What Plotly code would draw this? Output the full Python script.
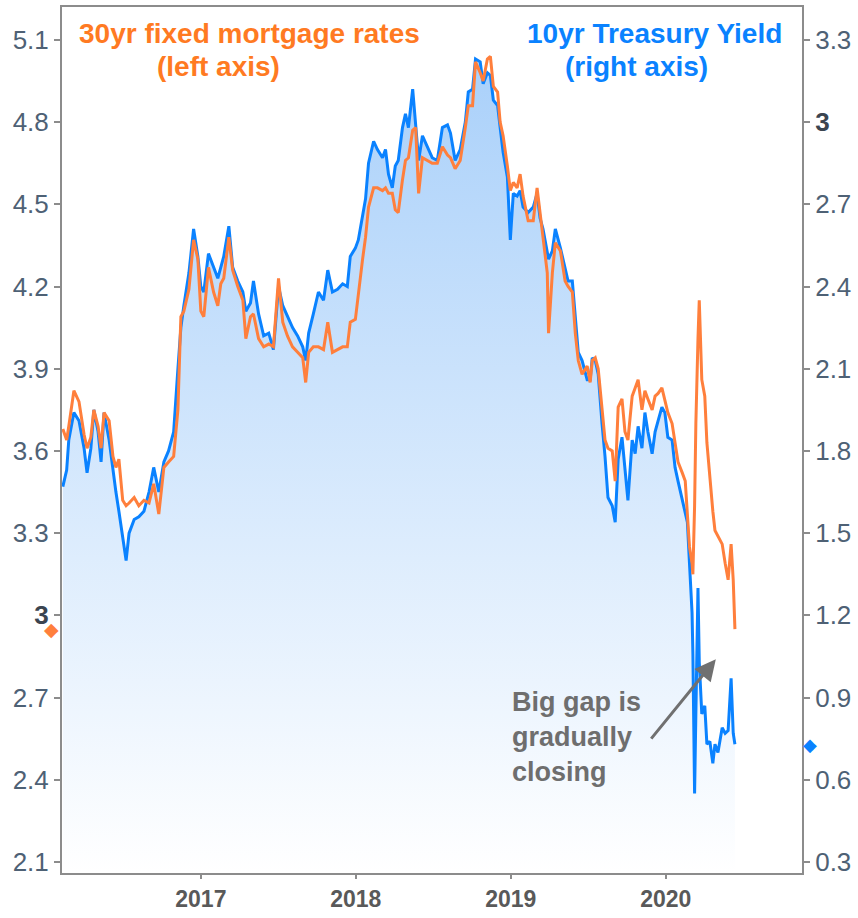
import plotly.graph_objects as go
import pandas as pd

# ---------------- data ----------------
dates = [
    "2016-02-11","2016-02-20","2016-02-25","2016-03-08","2016-03-20","2016-04-01","2016-04-08","2016-04-17",
    "2016-04-24","2016-05-04","2016-05-11","2016-05-18","2016-05-30","2016-06-08","2016-06-15","2016-06-22",
    "2016-07-01","2016-07-09","2016-07-16","2016-07-28","2016-08-08","2016-08-20","2016-09-01","2016-09-12",
    "2016-09-24","2016-10-06","2016-10-17","2016-10-29","2016-11-08","2016-11-15","2016-11-22","2016-12-04",
    "2016-12-15","2016-12-25",
    "2017-01-01","2017-01-08","2017-01-19","2017-01-31","2017-02-10","2017-02-17","2017-02-24","2017-03-08",
    "2017-03-17","2017-03-29","2017-04-10","2017-04-17","2017-04-28","2017-05-05","2017-05-17","2017-05-29",
    "2017-06-10","2017-06-21","2017-07-03","2017-07-13","2017-07-24","2017-08-05","2017-08-17","2017-08-29",
    "2017-09-05","2017-09-12","2017-09-23","2017-10-05","2017-10-17","2017-10-27","2017-11-07","2017-11-19",
    "2017-12-01","2017-12-12","2017-12-19","2017-12-31",
    "2018-01-07","2018-01-17","2018-01-24","2018-01-31","2018-02-12","2018-02-21","2018-03-05","2018-03-12",
    "2018-03-19","2018-03-28","2018-04-04","2018-04-11","2018-04-21","2018-04-28","2018-05-05","2018-05-15",
    "2018-05-22","2018-05-29","2018-06-07","2018-06-19","2018-06-30","2018-07-12","2018-07-24","2018-08-05",
    "2018-08-12","2018-08-23","2018-09-04","2018-09-16","2018-09-23","2018-10-03","2018-10-10","2018-10-21",
    "2018-10-28","2018-11-07","2018-11-14","2018-11-21","2018-12-01","2018-12-07","2018-12-14","2018-12-24",
    "2018-12-31",
    "2019-01-07","2019-01-16","2019-01-23","2019-01-30","2019-02-11","2019-02-23","2019-03-04","2019-03-11",
    "2019-03-18","2019-03-28","2019-03-31","2019-04-09","2019-04-16","2019-04-28","2019-05-09","2019-05-16",
    "2019-05-26","2019-06-02","2019-06-09","2019-06-18","2019-06-30","2019-07-07","2019-07-12","2019-07-19",
    "2019-07-26","2019-08-04","2019-08-11","2019-08-18","2019-08-28","2019-09-04","2019-09-11","2019-09-20",
    "2019-09-27","2019-10-04","2019-10-14","2019-10-21","2019-10-28","2019-11-06","2019-11-13","2019-11-20",
    "2019-11-30","2019-12-07","2019-12-14","2019-12-23","2019-12-30",
    "2020-01-06","2020-01-16","2020-01-23","2020-01-30","2020-02-09","2020-02-16","2020-02-21","2020-02-26",
    "2020-03-03","2020-03-05","2020-03-09","2020-03-12","2020-03-17","2020-03-20","2020-03-26","2020-04-02",
    "2020-04-07","2020-04-14","2020-04-21","2020-04-26","2020-05-03","2020-05-13","2020-05-20","2020-05-27",
    "2020-06-03","2020-06-08","2020-06-12",
]

mortgage_30yr = [
    3.68,3.64,3.69,3.82,3.78,3.66,3.61,3.65,3.75,3.69,3.61,3.74,3.71,3.58,3.54,3.57,
    3.42,3.40,3.41,3.43,3.40,3.42,3.41,3.48,3.37,3.54,3.56,3.58,3.75,4.09,4.11,4.19,
    4.37,4.30,
    4.11,4.09,4.27,4.18,4.13,4.21,4.23,4.38,4.26,4.20,4.15,4.01,4.09,4.10,4.01,3.98,
    3.99,3.98,4.23,4.07,4.02,3.98,3.96,3.94,3.85,3.96,3.98,3.98,3.97,4.07,3.96,3.97,
    3.98,3.98,4.07,4.08,
    4.18,4.30,4.38,4.49,4.56,4.56,4.55,4.56,4.54,4.54,4.48,4.47,4.59,4.66,4.67,4.77,
    4.78,4.54,4.67,4.66,4.65,4.65,4.71,4.68,4.67,4.63,4.66,4.78,4.86,4.86,5.02,4.98,
    4.95,5.03,5.04,4.93,4.91,4.80,4.75,4.64,4.55,
    4.58,4.56,4.61,4.53,4.44,4.44,4.56,4.47,4.38,4.25,4.03,4.25,4.36,4.33,4.22,4.20,
    4.18,4.03,3.93,3.88,3.91,3.85,3.93,3.94,3.90,3.76,3.64,3.61,3.60,3.49,3.76,3.79,
    3.67,3.64,3.80,3.83,3.86,3.75,3.82,3.79,3.75,3.80,3.81,3.83,3.79,
    3.74,3.70,3.63,3.56,3.52,3.49,3.37,3.25,3.19,3.15,3.40,3.70,4.01,4.15,3.86,3.80,
    3.63,3.49,3.38,3.31,3.29,3.26,3.19,3.13,3.26,3.13,2.95,
]

treasury_10yr = [
    1.67,1.73,1.84,1.94,1.91,1.81,1.72,1.81,1.95,1.87,1.76,1.94,1.84,1.72,1.65,1.58,
    1.49,1.40,1.50,1.55,1.56,1.58,1.65,1.74,1.65,1.76,1.80,1.87,2.10,2.25,2.33,2.45,
    2.61,2.51,
    2.40,2.38,2.52,2.47,2.43,2.47,2.51,2.62,2.47,2.42,2.38,2.31,2.34,2.42,2.30,2.22,
    2.23,2.17,2.40,2.33,2.29,2.25,2.22,2.18,2.13,2.23,2.30,2.38,2.35,2.46,2.38,2.39,
    2.41,2.40,2.51,2.54,
    2.57,2.65,2.72,2.85,2.93,2.90,2.87,2.90,2.81,2.76,2.84,2.86,2.98,3.03,2.98,3.12,
    3.00,2.86,2.95,2.91,2.87,2.86,2.98,2.99,2.96,2.86,2.90,3.00,3.11,3.12,3.23,3.22,
    3.14,3.18,3.17,3.08,3.06,2.98,2.89,2.80,2.57,
    2.74,2.73,2.75,2.69,2.67,2.69,2.74,2.65,2.61,2.52,2.50,2.53,2.61,2.54,2.46,2.42,
    2.42,2.28,2.16,2.13,2.06,2.06,2.14,2.13,2.08,1.90,1.78,1.63,1.60,1.54,1.77,1.85,
    1.74,1.62,1.84,1.79,1.89,1.81,1.94,1.87,1.79,1.87,1.91,1.96,1.94,
    1.85,1.84,1.74,1.69,1.62,1.58,1.54,1.39,1.21,1.06,0.55,0.84,1.30,1.03,0.84,0.87,
    0.73,0.74,0.66,0.73,0.70,0.79,0.77,0.78,0.97,0.77,0.73,
]

left_ticks = [2.1, 2.4, 2.7, 3.0, 3.3, 3.6, 3.9, 4.2, 4.5, 4.8, 5.1]
right_ticks = [0.3, 0.6, 0.9, 1.2, 1.5, 1.8, 2.1, 2.4, 2.7, 3.0, 3.3]
year_ticks = ["2017-01-01", "2018-01-01", "2019-01-01", "2020-01-01"]
year_labels = ["2017", "2018", "2019", "2020"]

# ---------------- style ----------------
ORANGE = "#ff7f3c"
ORANGE_TXT = "#ff7a22"
BLUE = "#0a82ff"
AXIS = "#8c8c8c"
TICKC = "#4e6175"
FONT = "Liberation Sans, Arial, sans-serif"

x_start = pd.Timestamp("2016-02-09")
x_end = pd.Timestamp("2020-11-17")


def tick_text(vals):
    out = []
    for v in vals:
        if abs(v - 3.0) < 1e-9:
            out.append("<b><span style='color:#3b4550'>3</span></b>")
        else:
            out.append(f"{v:.1f}")
    return out


fig = go.Figure()

# 10yr Treasury with gradient fill (right axis -> primary y)
fig.add_trace(go.Scatter(
    x=dates, y=treasury_10yr, yaxis="y", mode="lines",
    line=dict(color=BLUE, width=3),
    fill="tozeroy",
    fillgradient=dict(type="vertical",
                      colorscale=[[0, "#ffffff"], [1, "#a9d0fa"]],
                      start=0.26, stop=3.25),
    hoverinfo="skip", showlegend=False,
))

# 30yr mortgage (left axis -> y2, drawn on top)
fig.add_trace(go.Scatter(
    x=dates, y=mortgage_30yr, yaxis="y2", mode="lines",
    line=dict(color=ORANGE, width=3),
    hoverinfo="skip", showlegend=False,
))

annotations = [
    dict(text="<b>30yr fixed mortgage rates</b>", xref="paper", yref="paper",
         x=0.254, y=0.969, xanchor="center", yanchor="middle", showarrow=False,
         font=dict(size=28, color=ORANGE_TXT, family=FONT)),
    dict(text="<b>(left axis)</b>", xref="paper", yref="paper",
         x=0.212, y=0.931, xanchor="center", yanchor="middle", showarrow=False,
         font=dict(size=28, color=ORANGE_TXT, family=FONT)),
    dict(text="<b>10yr Treasury Yield</b>", xref="paper", yref="paper",
         x=0.800, y=0.969, xanchor="center", yanchor="middle", showarrow=False,
         font=dict(size=28, color=BLUE, family=FONT)),
    dict(text="<b>(right axis)</b>", xref="paper", yref="paper",
         x=0.777, y=0.931, xanchor="center", yanchor="middle", showarrow=False,
         font=dict(size=28, color=BLUE, family=FONT)),
    dict(text="<b>Big gap is<br>gradually<br>closing</b>", xref="paper", yref="paper",
         x=0.606, y=0.157, xanchor="left", yanchor="middle", align="left",
         showarrow=False, font=dict(size=27, color="#6e6e6e", family=FONT)),
    dict(text="", x="2020-04-28", y=2.84, xref="x", yref="y2",
         ax="2019-11-25", ay=2.545, axref="x", ayref="y2",
         showarrow=True, arrowhead=2, arrowsize=1.4, arrowwidth=3,
         arrowcolor="#707070"),
    # last-value diamonds just outside the plot edges
    dict(text="\u25C6", xref="paper", yref="y2", x=-0.014, y=mortgage_30yr[-1],
         xanchor="center", yanchor="middle", showarrow=False,
         font=dict(size=19, color=ORANGE, family="DejaVu Sans")),
    dict(text="\u25C6", xref="paper", yref="y", x=1.011, y=treasury_10yr[-1],
         xanchor="center", yanchor="middle", showarrow=False,
         font=dict(size=18, color=BLUE, family="DejaVu Sans")),
]

fig.update_layout(
    template="none",
    width=858, height=918,
    margin=dict(l=62, r=56, t=7, b=45),
    paper_bgcolor="white", plot_bgcolor="white",
    font=dict(family=FONT),
    showlegend=False,
    annotations=annotations,
    xaxis=dict(
        type="date", range=[x_start, x_end],
        tickvals=year_ticks, ticktext=year_labels,
        ticks="outside", ticklen=4, tickwidth=1.5, tickcolor=AXIS,
        showline=True, linecolor=AXIS, linewidth=2, mirror=True,
        showgrid=False, zeroline=False,
        tickfont=dict(size=23, color="#595959", family=FONT, weight="bold"),
    ),
    yaxis=dict(
        side="right", range=[0.26, 3.42],
        tickvals=right_ticks, ticktext=tick_text(right_ticks),
        ticks="outside", ticklen=6, tickwidth=1.5, tickcolor=AXIS,
        showline=True, linecolor=AXIS, linewidth=2,
        showgrid=False, zeroline=False,
        tickfont=dict(size=26, color=TICKC, family=FONT),
    ),
    yaxis2=dict(
        side="left", overlaying="y", range=[2.06, 5.22],
        tickvals=left_ticks, ticktext=tick_text(left_ticks),
        ticks="outside", ticklen=6, tickwidth=1.5, tickcolor=AXIS,
        showline=True, linecolor=AXIS, linewidth=2,
        showgrid=False, zeroline=False,
        tickfont=dict(size=26, color=TICKC, family=FONT),
    ),
)

fig.write_html("out.html", config={"displayModeBar": False},
               post_script="document.body.style.margin='0px';")
